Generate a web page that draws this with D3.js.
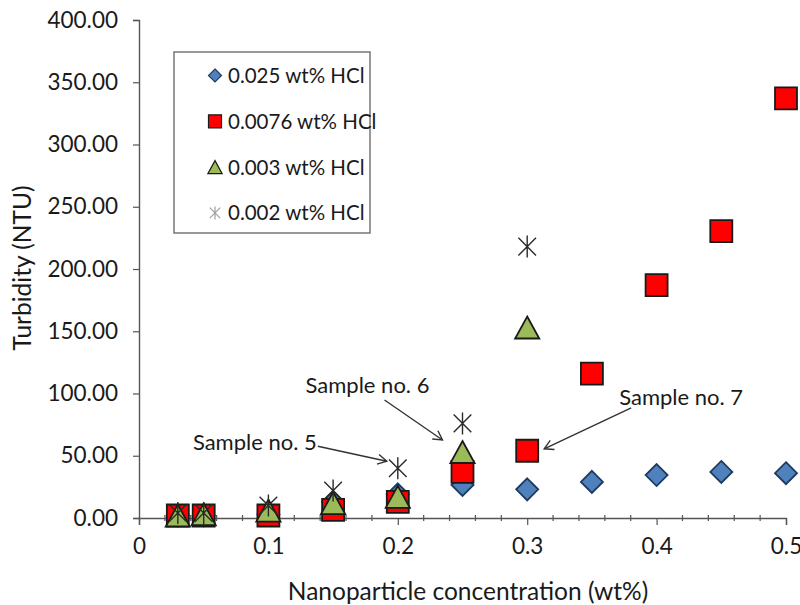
<!DOCTYPE html>
<html>
<head>
<meta charset="utf-8">
<script src="https://cdn.jsdelivr.net/npm/d3@7/dist/d3.min.js"></script>
<style>
  body { margin: 0; background: #fff; }
  text { font-family: Lato, "Open Sans", sans-serif; fill: #1a1a1a; }
</style>
</head>
<body>
<svg id="chart"></svg>
<script>
// data
const concentration = [0.03, 0.05, 0.1, 0.15, 0.2, 0.25, 0.3, 0.35, 0.4, 0.45, 0.5];
const hcl025  = [2, 2, 3, 13, 19, 26.5, 23, 29, 34.5, 37, 36];
const hcl0076 = [2, 2, 2, 6.5, 13, 37, 54, 116, 187, 230.5, 337];
const hcl003  = [2, 3, 6, 12, 17, 53, 153];
const hcl002  = [4, 4, 10, 22, 40, 76, 218];
const seriesNames = ["0.025 wt% HCl", "0.0076 wt% HCl", "0.003 wt% HCl", "0.002 wt% HCl"];
const yTickValues = [0, 50, 100, 150, 200, 250, 300, 350, 400];
const xTickValues = [0, 0.1, 0.2, 0.3, 0.4, 0.5];
const annotations = [
  { label: "Sample no. 5", x: 0.2,  y: 40 },
  { label: "Sample no. 6", x: 0.25, y: 53 },
  { label: "Sample no. 7", x: 0.3,  y: 54 }
];

const width = 800, height = 605;
const margin = { top: 20, right: 14, bottom: 87, left: 139 };

const svg = d3.select("#chart").attr("width", width).attr("height", height);

const xScale = d3.scaleLinear().domain([0, 0.5]).range([margin.left, width - margin.right]);
const yScale = d3.scaleLinear().domain([0, 400]).range([height - margin.bottom, margin.top]);

// marker shapes
function markerPath(kind, s) {
  if (kind == "diamond") return "M0," + (-s) + "L" + s + ",0L0," + s + "L" + (-s) + ",0Z";
  if (kind == "square") return "M" + (-s) + "," + (-s) + "H" + s + "V" + s + "H" + (-s) + "Z";
  if (kind == "triangle") return "M0," + (-s) + "L" + (s * 1.1) + "," + s + "H" + (-s * 1.1) + "Z";
  // star: vertical bar + X
  var d = s * 0.8;
  return "M0," + (-s) + "V" + s + "M" + (-d) + "," + (-d) + "L" + d + "," + d + "M" + d + "," + (-d) + "L" + (-d) + "," + d;
}

const series = [
  { name: seriesNames[0], values: hcl025,  kind: "diamond",  fill: "#4f81bd", stroke: "#1f3a5f", legendStroke: "#1f3a5f" },
  { name: seriesNames[1], values: hcl0076, kind: "square",   fill: "#ff0000", stroke: "#1a1a1a", legendStroke: "#1a1a1a" },
  { name: seriesNames[2], values: hcl003,  kind: "triangle", fill: "#9bbb59", stroke: "#1a1a1a", legendStroke: "#1a1a1a" },
  { name: seriesNames[3], values: hcl002,  kind: "star",     fill: "none",    stroke: "#2a2a2a", legendStroke: "#a0a0a0" }
];

// axes
const yAxis = d3.axisLeft(yScale).tickValues(yTickValues).tickSize(6).tickFormat(d3.format(".2f"));
const yAxisG = svg.append("g").attr("transform", "translate(" + margin.left + ",0)").call(yAxis);

const xAxis = d3.axisBottom(xScale).tickValues(xTickValues).tickSize(7).tickFormat(function(d) { return d == 0 ? "0" : d3.format(".1f")(d); });
const xAxisG = svg.append("g").attr("transform", "translate(0," + yScale(0) + ")").call(xAxis);

// minor ticks on x axis, crossing the line
const minorTicks = d3.range(0.02, 0.5, 0.02).filter(function(d) { return Math.abs(d * 10 - Math.round(d * 10)) > 1e-6; });
svg.append("g").selectAll("line").data(minorTicks).enter().append("line")
  .attr("x1", function(d) { return xScale(d); })
  .attr("x2", function(d) { return xScale(d); })
  .attr("y1", yScale(0) - 3).attr("y2", yScale(0) + 3)
  .attr("stroke", "#555").attr("stroke-width", 1.2);

[yAxisG, xAxisG].forEach(function(g) {
  g.select(".domain").attr("stroke", "#555").attr("stroke-width", 1.4);
  g.selectAll(".tick line").attr("stroke", "#555").attr("stroke-width", 1.2);
  g.selectAll(".tick text").style("font-size", "22.5px").attr("fill", "#1a1a1a");
});
yAxisG.selectAll(".tick text").attr("x", -21);
xAxisG.selectAll(".tick text").attr("y", 20);

// axis titles
svg.append("text")
  .attr("transform", "translate(31,268) rotate(-90)")
  .attr("text-anchor", "middle")
  .style("font-size", "24.5px")
  .text("Turbidity (NTU)");
svg.append("text")
  .attr("x", 468).attr("y", 600)
  .attr("text-anchor", "middle")
  .style("font-size", "24.5px")
  .text("Nanoparticle concentration (wt%)");

// points
series.forEach(function(s) {
  svg.append("g").selectAll("path").data(s.values).enter().append("path")
    .attr("transform", function(d, i) { return "translate(" + xScale(concentration[i]) + "," + yScale(d) + ")"; })
    .attr("d", markerPath(s.kind, 11))
    .attr("fill", s.fill)
    .attr("stroke", s.stroke)
    .attr("stroke-width", s.kind == "star" ? 1.4 : 1.8);
});

// legend
const legend = svg.append("g").attr("transform", "translate(174,52)");
legend.append("rect").attr("width", 196).attr("height", 181)
  .attr("fill", "#fff").attr("stroke", "#777").attr("stroke-width", 1.5);
series.forEach(function(s, i) {
  var row = legend.append("g").attr("transform", "translate(0," + (23.5 + i * 45.8) + ")");
  row.append("path").attr("transform", "translate(41,0)")
    .attr("d", markerPath(s.kind, 6.5))
    .attr("fill", s.fill).attr("stroke", s.legendStroke).attr("stroke-width", 1.2);
  row.append("text").attr("x", 54).attr("y", 7.5).style("font-size", "20.5px").text(s.name);
});

// annotations with arrows
svg.append("defs").append("marker")
  .attr("id", "arrow").attr("viewBox", "-10 -6 12 12")
  .attr("refX", 0).attr("refY", 0)
  .attr("markerWidth", 12).attr("markerHeight", 12)
  .attr("markerUnits", "userSpaceOnUse")
  .attr("orient", "auto")
  .append("path").attr("d", "M-9,-5L0,0L-9,5")
  .attr("fill", "none").attr("stroke", "#333").attr("stroke-width", 1.4);

// offsets: arrow tip from point, arrow tail from point, text anchor from point
const annoLayout = [
  { tip: [-11, -7], tail: [-80, -22], text: [-81, -18], anchor: "end" },
  { tip: [-20, -12], tail: [-78, -52], text: [-95, -59], anchor: "middle" },
  { tip: [17, -2], tail: [104, -43], text: [92, -46], anchor: "start" }
];
annotations.forEach(function(a, i) {
  var px = xScale(a.x), py = yScale(a.y), l = annoLayout[i];
  svg.append("line")
    .attr("x1", px + l.tail[0]).attr("y1", py + l.tail[1])
    .attr("x2", px + l.tip[0]).attr("y2", py + l.tip[1])
    .attr("stroke", "#333").attr("stroke-width", 1.4)
    .attr("marker-end", "url(#arrow)");
  svg.append("text")
    .attr("x", px + l.text[0]).attr("y", py + l.text[1])
    .attr("text-anchor", l.anchor)
    .style("font-size", "22px")
    .text(a.label);
});
</script>
</body>
</html>
